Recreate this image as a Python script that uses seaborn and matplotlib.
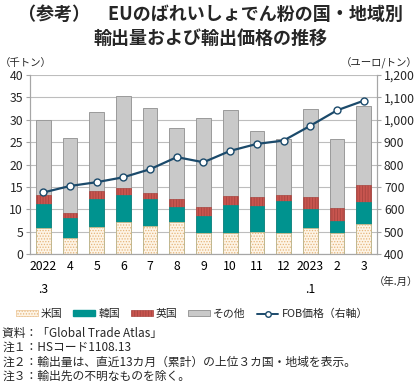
import numpy as np
import pandas as pd
import seaborn as sns
import matplotlib.pyplot as plt
from matplotlib.patches import Patch
from matplotlib.lines import Line2D
from matplotlib.ticker import FuncFormatter, MultipleLocator

# --- DATA ---
months = ["2022\n.3", "4", "5", "6", "7", "8", "9", "10", "11", "12", "2023\n.1", "2", "3"]
us = [5.7, 3.5, 6.0, 7.2, 6.3, 7.1, 4.6, 4.7, 4.9, 4.6, 5.8, 4.7, 6.6]
korea = [5.4, 4.5, 6.3, 5.9, 5.9, 3.4, 3.8, 6.3, 5.9, 7.2, 4.2, 2.7, 5.0]
uk = [2.0, 1.2, 1.7, 1.7, 1.5, 1.7, 2.1, 2.0, 1.9, 1.3, 2.7, 2.9, 3.9]
other = [16.9, 16.8, 17.7, 20.4, 19.0, 16.0, 19.9, 19.2, 14.7, 12.6, 19.8, 15.3, 17.5]
fob = [675, 704, 721, 743, 779, 833, 810, 861, 892, 907, 973, 1042, 1085]

notes = [
    "資料：「Global Trade Atlas」",
    "注１：HSコード1108.13",
    "注２：輸出量は、直近13カ月（累計）の上位３カ国・地域を表示。",
    "注３：輸出先の不明なものを除く。",
]

# --- COLORS ---
c_other = "#c9c9c9"
c_korea = "#00938f"
c_uk = "#c8554f"
c_us = "#fdf4e6"
c_line = "#1b4a6b"

sns.set_style("white")
plt.rcParams["font.family"] = ["Noto Sans CJK JP", "DejaVu Sans"]
plt.rcParams["hatch.linewidth"] = 0.6

df = pd.DataFrame({"month": months, "us": us, "korea": korea, "uk": uk, "other": other})
df["l1"] = df["us"]
df["l2"] = df["l1"] + df["korea"]
df["l3"] = df["l2"] + df["uk"]
df["l4"] = df["l3"] + df["other"]

fig = plt.figure(figsize=(4.2, 3.85), dpi=100)
ax = fig.add_axes([30 / 420, 1 - 254 / 385, (377 - 30) / 420, (254 - 75) / 385])

# stacked bars drawn as overlapping cumulative bars
bw = 0.55
sns.barplot(data=df, x="month", y="l4", color=c_other, saturation=1, width=bw,
            edgecolor="#9a9a9a", linewidth=0.7, ax=ax)
sns.barplot(data=df, x="month", y="l3", color=c_uk, saturation=1, width=bw,
            edgecolor="#a84540", linewidth=0.5, hatch="||||||", ax=ax)
sns.barplot(data=df, x="month", y="l2", color=c_korea, saturation=1, width=bw,
            edgecolor=c_korea, linewidth=0.5, ax=ax)
sns.barplot(data=df, x="month", y="l1", color=c_us, saturation=1, width=bw,
            edgecolor="#e6b57a", linewidth=0.4, hatch="......", ax=ax)

ax.set_xlim(-0.5, 12.5)
ax.set_ylim(0, 40)
ax.yaxis.set_major_locator(MultipleLocator(5))
ax.set_xlabel("")
ax.set_ylabel("")
ax.grid(axis="y", color="#bdbdbd", linewidth=0.8)
ax.set_axisbelow(True)
for s in ["left", "bottom", "right"]:
    ax.spines[s].set_color("#a6a6a6")
    ax.spines[s].set_linewidth(0.8)
ax.spines["top"].set_visible(False)

ax.set_xticks(np.arange(-0.5, 13, 1), minor=True)
ax.tick_params(axis="x", which="major", length=0, pad=4, labelsize=8.8, colors="black")
ax.tick_params(axis="x", which="minor", length=3, color="#a6a6a6", width=0.8, direction="out")
ax.tick_params(axis="y", length=3, color="#a6a6a6", width=0.8, labelsize=8.8, pad=2)
for t in ax.get_xticklabels():
    t.set_linespacing(2.0)
    t.set_verticalalignment("top")

# FOB price on right axis
ax2 = ax.twinx()
sns.lineplot(x=np.arange(len(fob)), y=fob, ax=ax2, color=c_line, linewidth=1.6,
             marker="o", markersize=5, markerfacecolor="white",
             markeredgecolor=c_line, markeredgewidth=1.0)
ax2.set_ylim(400, 1200)
ax2.yaxis.set_major_locator(MultipleLocator(100))
ax2.yaxis.set_major_formatter(FuncFormatter(lambda v, p: f"{int(v):,}"))
ax2.tick_params(axis="y", length=3, color="#a6a6a6", width=0.8, labelsize=8.8, pad=2)
for s in ["left", "bottom", "right"]:
    ax2.spines[s].set_color("#a6a6a6")
    ax2.spines[s].set_linewidth(0.8)
ax2.spines["top"].set_visible(False)
ax2.grid(False)

# --- TEXTS ---
fig.text(0.5, 1 - 14 / 385, "（参考）　EUのばれいしょでん粉の国・地域別",
         ha="center", va="center", fontsize=13, fontweight="bold")
fig.text(0.5, 1 - 38 / 385, "輸出量および輸出価格の推移",
         ha="center", va="center", fontsize=13, fontweight="bold")
fig.text(0.0, 1 - 63 / 385, "（千トン）", ha="left", va="center", fontsize=7.5)
fig.text(418 / 420, 1 - 63 / 385, "（ユーロ/トン）", ha="right", va="center", fontsize=7.5)
fig.text(418 / 420, 1 - 282 / 385, "（年.月）", ha="right", va="center", fontsize=7.5)

handles = [
    Patch(facecolor=c_us, edgecolor="#e6b57a", hatch="......", linewidth=0.4, label="米国"),
    Patch(facecolor=c_korea, edgecolor=c_korea, label="韓国"),
    Patch(facecolor=c_uk, edgecolor="#a84540", hatch="||||||", linewidth=0.5, label="英国"),
    Patch(facecolor=c_other, edgecolor="#9a9a9a", linewidth=0.7, label="その他"),
    Line2D([], [], color=c_line, linewidth=1.4, marker="o", markersize=4,
           markerfacecolor="white", markeredgecolor=c_line, label="FOB価格（右軸）"),
]
fig.legend(handles=handles, loc="center", bbox_to_anchor=(192 / 420, 1 - 314 / 385),
           ncol=5, frameon=False, fontsize=7.8, handlelength=2.0, handleheight=0.5,
           handletextpad=0.3, columnspacing=1.0)

for i, line in enumerate(notes):
    fig.text(0.005, 1 - (333 + i * 14.5) / 385, line, ha="left", va="center", fontsize=8.5)

fig.savefig("out.png", dpi=100)
